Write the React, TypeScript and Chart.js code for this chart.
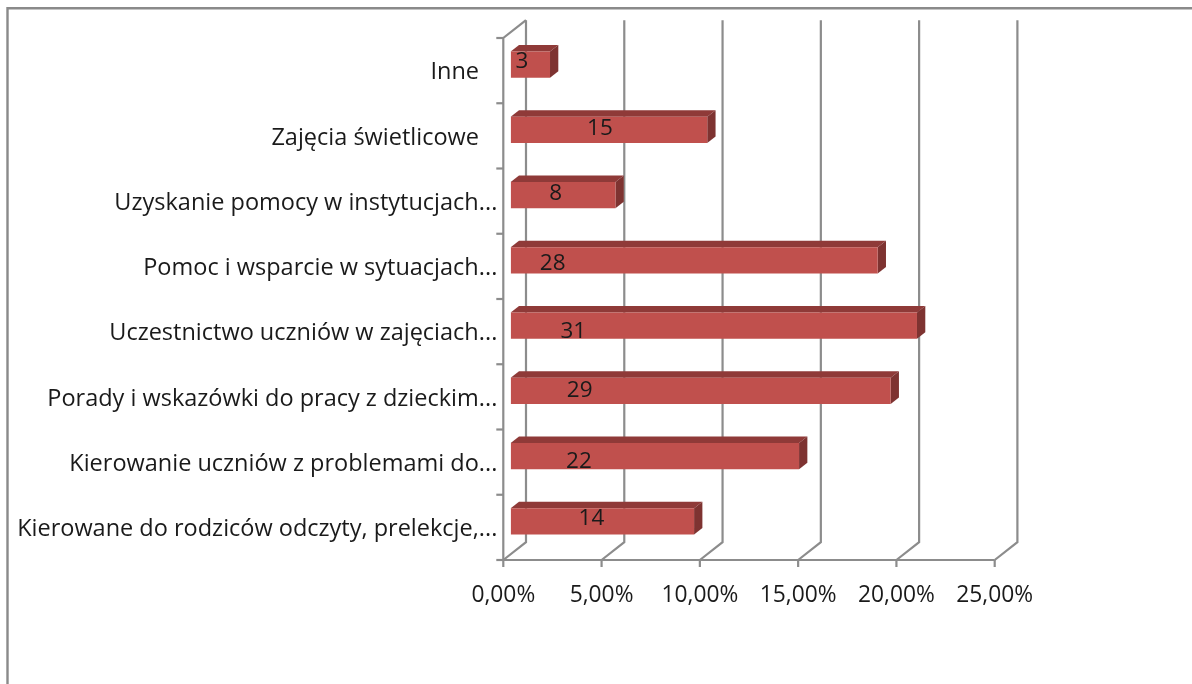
import React, { useEffect, useRef } from "react";
import { Chart, registerables } from "chart.js";

Chart.register(...registerables);

const categories = [
  "Inne",
  "Zajęcia świetlicowe",
  "Uzyskanie pomocy w instytucjach...",
  "Pomoc i wsparcie w sytuacjach...",
  "Uczestnictwo uczniów w zajęciach...",
  "Porady i wskazówki do pracy z dzieckim...",
  "Kierowanie uczniów z problemami do...",
  "Kierowane do rodziców odczyty, prelekcje,...",
];
const percentValues = [2, 10, 5.33, 18.67, 20.67, 19.33, 14.67, 9.33];
const countLabels = ["3", "15", "8", "28", "31", "29", "22", "14"];
const xTicks = [0, 5, 10, 15, 20, 25];

const FONT = "'Open Sans', sans-serif";
const TEXT = "#1a1a1a";
const LINE = "#8c8c8c";
const BACK = { x: 22.7, y: -17.8 };
const BAR_PLANE = { x: 7.4, y: -6 };
const BAR_DEPTH = { x: 8.3, y: -6.5 };
// Excel left these data labels off-centre: shift from each bar face's centre.
const LABEL_SHIFT_X = [-8.5, -9, -7.5, -141.5, -140.5, -121, -76, -11];
const LABEL_SHIFT_Y = [-3.5, -1, -2, 3, 5.5, -0.5, 5, -3];

const framePlugin = {
  id: "frame",
  beforeDraw(chart: any) {
    const { ctx, width, height } = chart;
    ctx.save();
    ctx.fillStyle = "#fff";
    ctx.fillRect(0, 0, width, height);
    ctx.strokeStyle = "#8a8a8a";
    ctx.lineWidth = 2.4;
    ctx.beginPath();
    ctx.moveTo(7.5, height);
    ctx.lineTo(7.5, 8.2);
    ctx.lineTo(width, 8.2);
    ctx.stroke();
    ctx.restore();
  },
};

const wallsPlugin = {
  id: "walls",
  beforeDatasetsDraw(chart: any) {
    const { ctx, chartArea: a, scales } = chart;
    const x = scales.x;
    ctx.save();
    ctx.strokeStyle = LINE;
    ctx.lineWidth = 2.2;
    xTicks.forEach((t) => {
      const px = x.getPixelForValue(t);
      ctx.beginPath();
      ctx.moveTo(px, a.bottom);
      ctx.lineTo(px + BACK.x, a.bottom + BACK.y);
      ctx.lineTo(px + BACK.x, a.top + BACK.y);
      ctx.stroke();
      ctx.beginPath();
      ctx.moveTo(px, a.bottom);
      ctx.lineTo(px, a.bottom + 7);
      ctx.stroke();
    });
    ctx.beginPath();
    ctx.moveTo(a.left + BACK.x, a.top + BACK.y);
    ctx.lineTo(a.left, a.top);
    ctx.lineTo(a.left, a.bottom);
    ctx.lineTo(a.right, a.bottom);
    ctx.stroke();
    const step = (a.bottom - a.top) / categories.length;
    for (let i = 0; i <= categories.length; i++) {
      const py = a.top + i * step;
      ctx.beginPath();
      ctx.moveTo(a.left - 7, py);
      ctx.lineTo(a.left, py);
      ctx.stroke();
    }
    ctx.restore();
  },
  beforeDatasetDraw(chart: any) {
    const { ctx } = chart;
    const meta = chart.getDatasetMeta(0);
    ctx.save();
    ctx.translate(BAR_PLANE.x, BAR_PLANE.y);
    meta.data.forEach((bar: any) => {
      const { x: right, base: left, y, height } = bar.getProps(["x", "base", "y", "height"], true);
      const top = y - height / 2;
      const bottom = y + height / 2;
      ctx.fillStyle = "#8F3A38";
      ctx.beginPath();
      ctx.moveTo(left, top);
      ctx.lineTo(left + BAR_DEPTH.x, top + BAR_DEPTH.y);
      ctx.lineTo(right + BAR_DEPTH.x, top + BAR_DEPTH.y);
      ctx.lineTo(right, top);
      ctx.closePath();
      ctx.fill();
      ctx.fillStyle = "#7E3331";
      ctx.beginPath();
      ctx.moveTo(right, top);
      ctx.lineTo(right + BAR_DEPTH.x, top + BAR_DEPTH.y);
      ctx.lineTo(right + BAR_DEPTH.x, bottom + BAR_DEPTH.y);
      ctx.lineTo(right, bottom);
      ctx.closePath();
      ctx.fill();
    });
  },
  afterDatasetDraw(chart: any) {
    const { ctx } = chart;
    const meta = chart.getDatasetMeta(0);
    ctx.textAlign = "center";
    ctx.textBaseline = "middle";
    ctx.fillStyle = TEXT;
    ctx.font = `22.5px ${FONT}`;
    meta.data.forEach((bar: any, i: number) => {
      const { x: right, base: left, y } = bar.getProps(["x", "base", "y"], true);
      ctx.fillText(countLabels[i], (left + right) / 2 + LABEL_SHIFT_X[i], y + LABEL_SHIFT_Y[i]);
    });
    ctx.restore();
  },
};

export default function App() {
  const ref = useRef<HTMLCanvasElement>(null);
  useEffect(() => {
    const chart = new Chart(ref.current as HTMLCanvasElement, {
      type: "bar",
      data: {
        labels: categories,
        datasets: [
          {
            data: percentValues,
            backgroundColor: "#C0504D",
            borderWidth: 0,
            categoryPercentage: 0.4,
            barPercentage: 1,
          },
        ],
      },
      options: {
        indexAxis: "y",
        responsive: false,
        animation: false,
        layout: { padding: { top: 38, right: 197.3, left: 0, bottom: 0 } },
        plugins: { legend: { display: false }, tooltip: { enabled: false } },
        scales: {
          x: {
            min: 0,
            max: 25,
            border: { display: false },
            grid: { display: false },
            afterFit(s: any) {
              s.height = 124;
            },
            ticks: {
              stepSize: 5,
              maxRotation: 0,
              padding: 14,
              color: TEXT,
              font: { family: FONT, size: 22.8 },
              callback: (v: any) => Number(v).toFixed(2).replace(".", ",") + "%",
            },
          },
          y: {
            border: { display: false },
            grid: { display: false },
            afterFit(s: any) {
              s.width = 503.3;
            },
            ticks: {
              padding: -2,
              labelOffset: 2,
              autoSkip: false,
              color: TEXT,
              font: { family: FONT, size: 23.5 },
              callback(this: any, v: any) {
                const label = categories[v];
                return label.endsWith("...") ? label : label + "\u00A0\u00A0\u00A0";
              },
            },
          },
        },
      },
      plugins: [framePlugin, wallsPlugin],
    } as any);
    return () => chart.destroy();
  }, []);
  return (
    <div style={{ position: "absolute", left: 0, top: 0, width: 1192, height: 684, overflow: "hidden" }}>
      <canvas ref={ref} width={1192} height={684} style={{ display: "block", filter: "blur(0.4px)" }} />
    </div>
  );
}
